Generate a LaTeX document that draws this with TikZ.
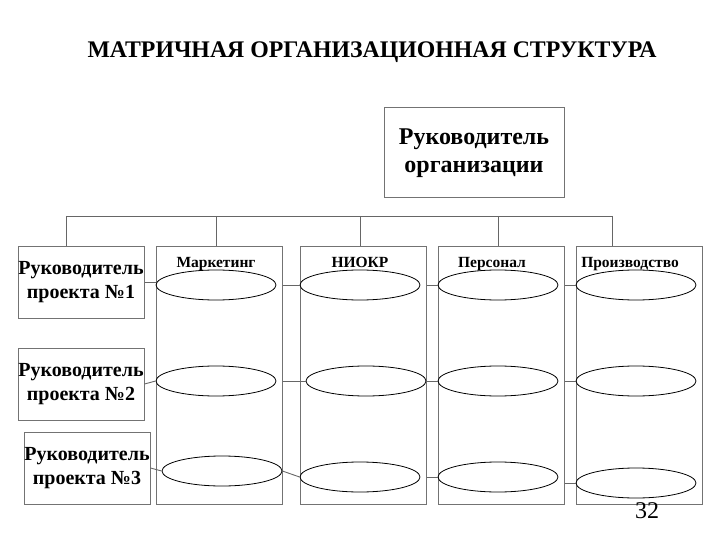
\documentclass[tikz,border=0pt]{standalone}
\usepackage{fontspec}
\setmainfont{Liberation Serif}
\usetikzlibrary{shapes.geometric}
\tikzset{
  box/.style={draw=black!55, line width=1pt, rectangle, inner sep=0pt, align=center, font=\bfseries\fontsize{20}{24}\selectfont, minimum width=126pt, minimum height=72pt},
  col/.style={draw=black!55, line width=1pt, rectangle, minimum width=126pt, minimum height=258pt, inner sep=0pt},
  ell/.style={draw=black, line width=0.8pt, ellipse, minimum width=120pt, minimum height=30pt, inner sep=0pt},
  hdr/.style={font=\bfseries\fontsize{15.5}{17}\selectfont, inner sep=0pt, anchor=base},
  con/.style={draw=black!60, line width=0.9pt},
}
\begin{document}
\begin{tikzpicture}[x=1pt,y=-1pt]
\useasboundingbox (0,0) rectangle (720,540);
\node[font=\bfseries\fontsize{23.8}{26}\selectfont, inner sep=0pt, anchor=base] (title) at (372,58) {МАТРИЧНАЯ ОРГАНИЗАЦИОННАЯ СТРУКТУРА};
\node[box, minimum width=180pt, minimum height=90pt, font=\bfseries\fontsize{24}{28}\selectfont] (org) at (474,153) {Руководитель\\ организации};
% columns
\node[col] (mk) at (219,375) {};
\node[col] (nk) at (363,375) {};
\node[col] (pk) at (501,375) {};
\node[col] (pr) at (639,375) {};
\node[hdr] (hm) at (216,267) {Маркетинг};
\node[hdr] (hn) at (360,267) {НИОКР};
\node[hdr] (hp) at (492,267) {Персонал};
\node[hdr] (hr) at (630,267) {Производство};
% project boxes
\node[box] (p1) at (81,282) {Руководитель\\проекта №1};
\node[box] (p2) at (81,384) {Руководитель\\проекта №2};
\node[box] (p3) at (87,468) {Руководитель\\проекта №3};
% ellipses
\node[ell] (m1) at (216,285) {};
\node[ell] (m2) at (216,381) {};
\node[ell] (m3) at (222,471) {};
\node[ell] (n1) at (360,285) {};
\node[ell] (n2) at (366,381) {};
\node[ell] (n3) at (360,477) {};
\node[ell] (s1) at (498,285) {};
\node[ell] (s2) at (498,381) {};
\node[ell] (s3) at (498,477) {};
\node[ell] (r1) at (636,285) {};
\node[ell] (r2) at (636,381) {};
\node[ell] (r3) at (636,483) {};
% bus
\coordinate (b1) at (66,216);
\coordinate (b2) at (216,216);
\coordinate (b3) at (360,216);
\coordinate (b4) at (498,216);
\coordinate (b5) at (612,216);
\draw[con] (b1) -- (b5);
\draw[con] (b1) -- (b1 |- p1.north);
\draw[con] (b2) -- (b2 |- mk.north);
\draw[con] (b3) -- (b3 |- nk.north);
\draw[con] (b4) -- (b4 |- pk.north);
\draw[con] (b5) -- (b5 |- pr.north);
% row 1
\draw[con] (p1.east) -- (p1.east -| m1.west);
\draw[con] (n1.west -| mk.east) -- (n1.west);
\draw[con] (s1.west -| nk.east) -- (s1.west);
\draw[con] (r1.west -| pk.east) -- (r1.west);
% row 2
\draw[con] (p2.east) -- (m2.west);
\draw[con] (n2.west -| mk.east) -- (n2.west);
\draw[con] (n2.east) -- (s2.west);
\draw[con] (r2.west -| pk.east) -- (r2.west);
% row 3
\draw[con] (p3.east) -- (m3.west);
\draw[con] (m3.east) -- (n3.west);
\draw[con] (n3.east -| nk.east) -- (s3.west);
\draw[con] (r3.west -| pk.east) -- (r3.west);
\node[font=\fontsize{24}{26}\selectfont, inner sep=0pt] (num) at (647,511) {32};
\end{tikzpicture}
\end{document}
